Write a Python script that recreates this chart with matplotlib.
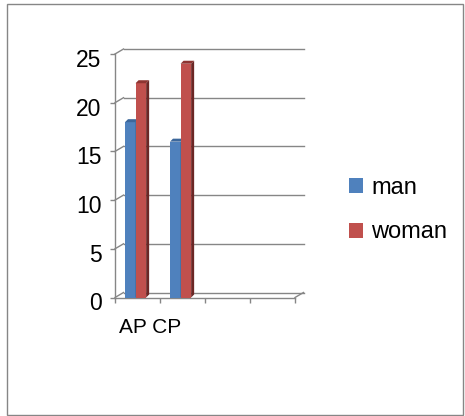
import numpy as np
import matplotlib
matplotlib.use('Agg')
import matplotlib.pyplot as plt
from matplotlib.patches import Rectangle, Patch
from matplotlib.transforms import ScaledTranslation

plt.rcParams['font.family'] = ['Liberation Sans', 'DejaVu Sans']

# data
categories = ['AP', 'CP']
series_names = ['man', 'woman']
man = [18, 16]
woman = [22, 24]
yticks = [0, 5, 10, 15, 20, 25]
n_slots = 4

colors = ['#4F81BD', '#C0504D']
tops = ['#3C679B', '#8E3431']
sides = ['#3A5F8E', '#6B2725']
grid_c = '#868686'

W, H = 465, 416
fig = plt.figure(figsize=(W / 100, H / 100), dpi=100)

# outer chart border
fig.patches.append(Rectangle((7 / W, 1 - 415 / H), 456 / W, 411 / H,
                             transform=fig.transFigure, fill=False,
                             edgecolor=grid_c, lw=1))

# front plane of the plot area (in pixels)
x0, x1 = 115, 295
y0, y1 = 297.5, 54
ax = fig.add_axes([x0 / W, 1 - y0 / H, (x1 - x0) / W, (y0 - y1) / H])
ax.set_xlim(0, n_slots)
ax.set_ylim(0, 25)
ax.patch.set_visible(False)

px = n_slots / (x1 - x0)
py = 25 / (y0 - y1)
dx, dy = 8.5 * px, 5 * py   # back wall offset

for s in ['top', 'right']:
    ax.spines[s].set_visible(False)
for s in ['left', 'bottom']:
    ax.spines[s].set_color(grid_c)
    ax.spines[s].set_linewidth(1)

ax.set_yticks(yticks)
ax.set_yticklabels([str(v) for v in yticks], fontsize=16.5)
ax.set_xticks(np.arange(n_slots + 1))
ax.set_xticklabels([])
ax.tick_params(axis='both', colors=grid_c, length=3.6, width=1, labelcolor='black')
ax.tick_params(axis='y', pad=6)
off = ScaledTranslation(0, -4 / 100, fig.dpi_scale_trans)
for lab in ax.get_yticklabels():
    lab.set_transform(lab.get_transform() + off)

# back wall gridlines with diagonals
for v in yticks:
    ax.plot([0, dx], [v, v + dy], color=grid_c, lw=1, clip_on=False)
    ax.plot([dx, n_slots + dx], [v + dy, v + dy], color=grid_c, lw=1, clip_on=False)
ax.plot([n_slots, n_slots + dx], [0, dy], color=grid_c, lw=1, clip_on=False)

# bars with a small 3d top and side
bw = 0.235
bdx, bdy = 3 * px, 3 * py
offsets = [0.222, 0.457]
for k, vals in enumerate([man, woman]):
    for i, v in enumerate(vals):
        left = i + offsets[k]
        ax.bar(left, v, width=bw, align='edge', color=colors[k], lw=0,
               zorder=3 + k, clip_on=False)
        ax.fill([left, left + bdx, left + bw + bdx, left + bw],
                [v, v + bdy, v + bdy, v], color=tops[k], lw=0,
                zorder=3 + k, clip_on=False)
        ax.fill([left + bw, left + bw + bdx, left + bw + bdx, left + bw],
                [0, bdy, v + bdy, v], color=sides[k], lw=0,
                zorder=3 + k, clip_on=False)

# category labels
fig.text(119 / W, 1 - 333 / H, ' '.join(categories), fontsize=15, va='baseline')

# legend
handles = [Patch(facecolor=c, edgecolor='none') for c in colors]
fig.legend(handles, series_names, loc='upper left',
           bbox_to_anchor=(349 / W, 1 - 177 / H), frameon=False, fontsize=17,
           borderpad=0, borderaxespad=0, handlelength=0.6, handleheight=0.6,
           handletextpad=0.35, labelspacing=0.95)

fig.savefig('out.png', dpi=100)
